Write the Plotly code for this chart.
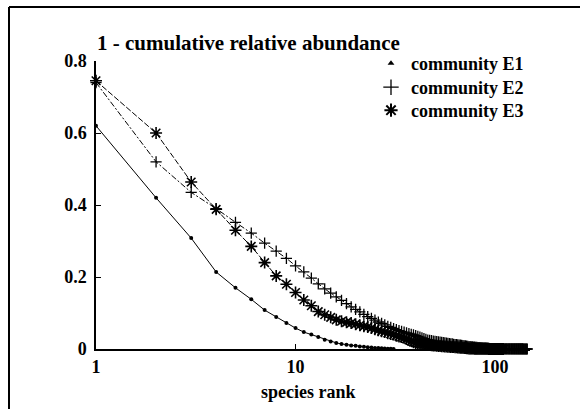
import plotly.graph_objects as go

# ---------------- data ----------------
rank_e1 = list(range(1, 32))
e1 = [0.620, 0.420, 0.308, 0.214, 0.170, 0.138, 0.108, 0.089, 0.072, 0.058,
      0.047, 0.040, 0.033, 0.026, 0.021, 0.017, 0.014, 0.012, 0.010, 0.009,
      0.007, 0.006, 0.005, 0.004, 0.003, 0.0025, 0.002, 0.0015, 0.001, 0.0005,
      0.0]

rank_e2 = list(range(1, 146))
e2 = [0.740, 0.520, 0.435, 0.390, 0.352, 0.322, 0.294, 0.272, 0.252, 0.231,
      0.214, 0.197, 0.181, 0.167, 0.155, 0.145, 0.135, 0.126, 0.117, 0.110,
      0.103, 0.096, 0.090, 0.085, 0.080, 0.075, 0.071, 0.067, 0.063, 0.060,
      0.057, 0.054, 0.051, 0.049, 0.047, 0.045, 0.043, 0.041, 0.039, 0.037,
      0.035, 0.033, 0.031, 0.029, 0.027, 0.025, 0.024, 0.023, 0.022, 0.021,
      0.0205, 0.020, 0.019, 0.0185, 0.018, 0.017, 0.0165, 0.016, 0.015, 0.0145,
      0.014, 0.013, 0.0125, 0.012, 0.0115, 0.011, 0.0105, 0.010, 0.0095, 0.009,
      0.0085, 0.008, 0.0075, 0.007, 0.0065, 0.006, 0.0057, 0.0054, 0.0051, 0.0048,
      0.0045, 0.0042, 0.0039, 0.0036, 0.0033, 0.0030, 0.0028, 0.0026, 0.0024, 0.0022,
      0.0020, 0.0018, 0.0016, 0.0014, 0.0013, 0.0012, 0.0011, 0.0010, 0.0009, 0.0008,
      0.00078, 0.00076, 0.00074, 0.00072, 0.0007, 0.00068, 0.00066, 0.00064, 0.00062, 0.0006,
      0.00058, 0.00056, 0.00054, 0.00052, 0.0005, 0.00048, 0.00046, 0.00044, 0.00042, 0.0004,
      0.00038, 0.00036, 0.00034, 0.00032, 0.0003, 0.00028, 0.00026, 0.00024, 0.00022, 0.0002,
      0.00018, 0.00016, 0.00014, 0.00012, 0.0001, 0.00009, 0.00008, 0.00007, 0.00006, 0.00005,
      0.00004, 0.00003, 0.00002, 0.00001, 0.0]

rank_e3 = list(range(1, 111))
e3 = [0.745, 0.600, 0.464, 0.388, 0.330, 0.285, 0.240, 0.203, 0.180, 0.157,
      0.136, 0.120, 0.104, 0.095, 0.088, 0.081, 0.077, 0.074, 0.072, 0.069,
      0.066, 0.063, 0.061, 0.058, 0.055, 0.052, 0.049, 0.047, 0.044, 0.042,
      0.040, 0.037, 0.035, 0.033, 0.031, 0.028, 0.025, 0.022, 0.019, 0.017,
      0.016, 0.015, 0.014, 0.013, 0.012, 0.0115, 0.011, 0.0105, 0.010, 0.0095,
      0.009, 0.0085, 0.008, 0.0077, 0.0074, 0.0071, 0.0068, 0.0065, 0.0062, 0.0059,
      0.0056, 0.0053, 0.0050, 0.0047, 0.0044, 0.0041, 0.0038, 0.0035, 0.0032, 0.0029,
      0.0026, 0.0023, 0.0020, 0.0017, 0.0014, 0.0013, 0.0012, 0.0011, 0.0010, 0.0009,
      0.00085, 0.0008, 0.00075, 0.0007, 0.00065, 0.0006, 0.00055, 0.0005, 0.00045, 0.0004,
      0.00038, 0.00036, 0.00034, 0.00032, 0.0003, 0.00027, 0.00024, 0.00021, 0.00018, 0.00015,
      0.00013, 0.00011, 0.00009, 0.00007, 0.00006, 0.00005, 0.00004, 0.00003, 0.00002, 0.0]

series_names = ["community E1", "community E2", "community E3"]
y_ticks = [0, 0.2, 0.4, 0.6, 0.8]
y_ticktext = ["0", "0.2", "0.4", "0.6", "0.8"]
x_ticks = [1, 10, 100]
x_ticktext = ["1", "10", "100"]
title_text = "1 - cumulative relative abundance"
xlabel = "species rank"

# ---------------- figure ----------------
FONT = "Liberation Serif, Times New Roman, serif"
W, H = 586, 409
L, R, T, B = 96, 56, 61, 60
pw, ph = W - L - R, H - T - B

def px_x(p):
    return (p - L) / pw

def px_y(p):
    return (H - B - p) / ph

fig = go.Figure()

styles = [
    dict(marker=dict(symbol="circle", size=4, color="black"),
         line=dict(color="black", width=1)),
    dict(marker=dict(symbol="cross-thin-open", size=8, color="black",
                     line=dict(color="black", width=1.3)),
         line=dict(color="black", width=1, dash="6px,2px,2px,2px")),
    dict(marker=dict(symbol="asterisk-open", size=10, color="black",
                     line=dict(color="black", width=1.6)),
         line=dict(color="black", width=1, dash="6px,2px")),
]
legend_markers = [
    dict(symbol="triangle-up", size=6, color="black"),
    dict(symbol="cross-thin-open", size=11, color="black", line=dict(color="black", width=1.3)),
    dict(symbol="asterisk-open", size=11, color="black", line=dict(color="black", width=2)),
]
legend_ids = ["legend", "legend2", "legend3"]
legend_tops = [45, 69, 92]

for xs, ys, nm, st, lm, lid in zip([rank_e1, rank_e2, rank_e3], [e1, e2, e3],
                                   series_names, styles, legend_markers, legend_ids):
    fig.add_trace(go.Scatter(x=xs, y=ys, mode="lines+markers", name=nm,
                             showlegend=False, cliponaxis=False, **st))
    fig.add_trace(go.Scatter(x=[None], y=[None], mode="markers", name=nm,
                             marker=lm, showlegend=True, legend=lid))

legend_layout = {}
for lid, top in zip(legend_ids, legend_tops):
    legend_layout[lid] = dict(x=px_x(371), y=px_y(top), xanchor="left", yanchor="top",
                              font=dict(family=FONT, size=18, color="black", weight="bold"),
                              bgcolor="rgba(0,0,0,0)", borderwidth=0, itemwidth=30)

fig.update_layout(
    width=W, height=H,
    margin=dict(l=L, r=R, t=T, b=B),
    paper_bgcolor="white", plot_bgcolor="white",
    font=dict(family=FONT, color="black"),
    **legend_layout,
)

fig.update_xaxes(type="log", range=[0, 2.175], tickvals=x_ticks, ticktext=x_ticktext,
                 ticks="inside", ticklen=5, tickwidth=1, tickcolor="black",
                 showline=True, linecolor="black", linewidth=1.5,
                 showgrid=False, zeroline=False, ticklabelstandoff=1,
                 tickfont=dict(family=FONT, size=18, color="black", weight="bold"))
fig.update_yaxes(range=[0, 0.8], tickvals=y_ticks, ticktext=y_ticktext,
                 ticks="inside", ticklen=5, tickwidth=1, tickcolor="black",
                 showline=True, linecolor="black", linewidth=1.5,
                 showgrid=False, zeroline=False, ticklabelstandoff=4,
                 tickfont=dict(family=FONT, size=18, color="black", weight="bold"))

fig.add_annotation(text=title_text, xref="paper", yref="paper",
                   x=px_x(95), y=px_y(43), xanchor="left", yanchor="middle",
                   showarrow=False,
                   font=dict(family=FONT, size=21, color="black", weight="bold"))
fig.add_annotation(text=xlabel, xref="paper", yref="paper",
                   x=px_x(308), y=px_y(392), xanchor="center", yanchor="middle",
                   showarrow=False,
                   font=dict(family=FONT, size=18, color="black", weight="bold"))

# outer frame (left and top edges)
fig.add_shape(type="line", xref="paper", yref="paper",
              x0=px_x(9), x1=px_x(9), y0=px_y(7), y1=px_y(420),
              line=dict(color="black", width=2))
fig.add_shape(type="line", xref="paper", yref="paper",
              x0=px_x(9), x1=px_x(580), y0=px_y(7), y1=px_y(7),
              line=dict(color="black", width=2))

fig.write_html("out.html", config={"displayModeBar": False},
               post_script="document.body.style.margin='0px';document.body.style.padding='0px';")
